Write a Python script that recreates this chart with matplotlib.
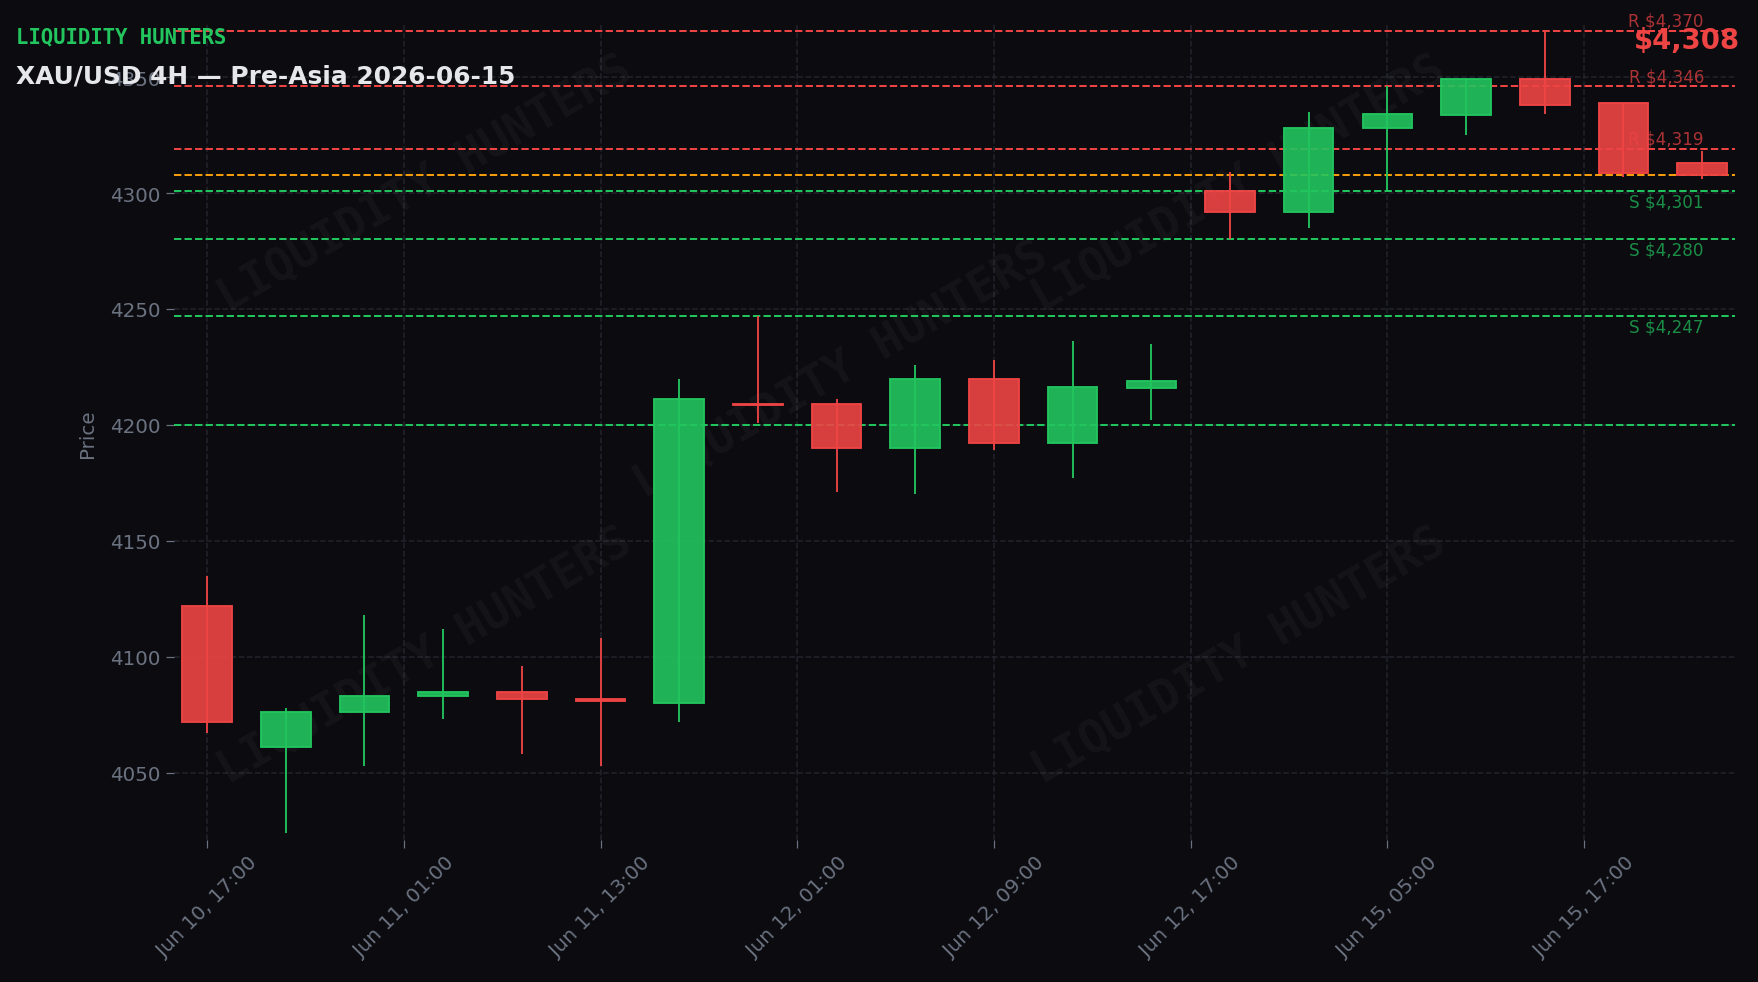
import matplotlib
matplotlib.use("Agg")
import matplotlib.pyplot as plt
from matplotlib.patches import Rectangle
import matplotlib.transforms as mtransforms
import numpy as np

###############################################################
# data
###############################################################
opens = [4122, 4061, 4076, 4083, 4085, 4082, 4080, 4209, 4209, 4190,
         4220, 4192, 4216, 4301, 4292, 4328, 4333.5, 4349, 4339, 4313]
closes = [4072, 4076, 4083, 4085, 4082, 4081, 4211, 4208.5, 4190, 4220,
          4192, 4216.5, 4219, 4292, 4328, 4334, 4349, 4338, 4308.5, 4308]
highs = [4135, 4078, 4118, 4112, 4096, 4108, 4220, 4247, 4211, 4226,
         4228, 4236, 4235, 4309, 4335, 4346, 4349, 4370, 4339, 4318]
lows = [4067, 4024, 4053, 4073, 4058, 4053, 4072, 4201, 4171, 4170,
        4189, 4177, 4202, 4280, 4285, 4301, 4325, 4334, 4307, 4306]

tick_labels = ["Jun 10, 17:00", "Jun 11, 01:00", "Jun 11, 13:00", "Jun 12, 01:00",
               "Jun 12, 09:00", "Jun 12, 17:00", "Jun 15, 05:00", "Jun 15, 17:00"]

resistance = [4370, 4346, 4319]
support = [4301, 4280, 4247]
extra_support = [4200]
current_price = 4308

###############################################################
# style
###############################################################
BG = "#0b0b10"
UP = "#22c55e"
DOWN = "#ef4444"
ORANGE = "#f59e0b"
GREY = "#6b7280"
GRID = "#23242c"

fig = plt.figure(figsize=(1758 / 110, 983 / 110), dpi=110, facecolor=BG)
ax = fig.add_axes([0.099, 0.1445, 0.888, 0.8291])
ax.set_facecolor(BG)

###############################################################
# candles
###############################################################
body_w = 0.63
for i, (o, c, h, l) in enumerate(zip(opens, closes, highs, lows)):
    col = UP if c >= o else DOWN
    ax.vlines(i, l, h, color=col, linewidth=1.2, zorder=3)
    bottom = min(o, c)
    height = max(abs(c - o), 0.6)
    ax.add_patch(Rectangle((i - body_w / 2, bottom), body_w, height,
                           facecolor=col, alpha=0.9, edgecolor="none", zorder=4))
    ax.add_patch(Rectangle((i - body_w / 2, bottom), body_w, height,
                           facecolor="none", edgecolor=col, linewidth=1.2, zorder=5))

###############################################################
# levels
###############################################################
trans = mtransforms.blended_transform_factory(ax.transAxes, ax.transData)
for lvl in resistance:
    ax.axhline(lvl, color=DOWN, linestyle="--", linewidth=1.3, zorder=2)
    ax.text(0.98, lvl + 0.6, f"R ${lvl:,}", transform=trans, ha="right", va="bottom",
            color=DOWN, alpha=0.7, fontsize=11, zorder=6)
for lvl in support:
    ax.axhline(lvl, color=UP, linestyle="--", linewidth=1.3, zorder=2)
    ax.text(0.98, lvl - 0.6, f"S ${lvl:,}", transform=trans, ha="right", va="top",
            color=UP, alpha=0.7, fontsize=11, zorder=6)
for lvl in extra_support:
    ax.axhline(lvl, color=UP, linestyle="--", linewidth=1.3, zorder=2)
ax.axhline(current_price, color=ORANGE, linestyle="--", linewidth=1.3, zorder=2)

###############################################################
# watermark
###############################################################
for wx, wy in [(0.161, 0.805), (0.427, 0.578), (0.682, 0.805), (0.161, 0.227), (0.682, 0.227)]:
    ax.text(wx, wy, "LIQUIDITY HUNTERS", transform=ax.transAxes, rotation=30,
            ha="center", va="center", fontsize=30, fontweight="bold",
            family="DejaVu Sans Mono", color="white", alpha=0.04, zorder=1)

###############################################################
# axes
###############################################################
ax.set_xlim(-0.42, 19.42)
ax.set_ylim(4021, 4372.5)
ax.set_xticks(np.arange(0, len(opens), 2.5))
ax.set_xticklabels(tick_labels, rotation=45, ha="center")
ax.set_yticks(np.arange(4050, 4351, 50))
ax.tick_params(colors=GREY, labelsize=13, length=5)
ax.grid(True, color=GRID, linestyle="--", linewidth=1.0, zorder=0)
ax.set_axisbelow(True)
for s in ax.spines.values():
    s.set_visible(False)
ax.set_ylabel("Price", color=GREY, fontsize=13, labelpad=9)

fig.text(0.0089, 0.956, "LIQUIDITY HUNTERS", color=UP, fontsize=13.5, fontweight="bold",
         family="DejaVu Sans Mono", va="baseline")
fig.text(0.0089, 0.915, "XAU/USD 4H — Pre-Asia 2026-06-15", color="#e5e7eb",
         fontsize=16.3, fontweight="bold", va="baseline")
fig.text(0.990, 0.95, f"${current_price:,}", color=DOWN, fontsize=18,
         fontweight="bold", ha="right", va="baseline")

fig.savefig("out.png", dpi=110, facecolor=BG)
